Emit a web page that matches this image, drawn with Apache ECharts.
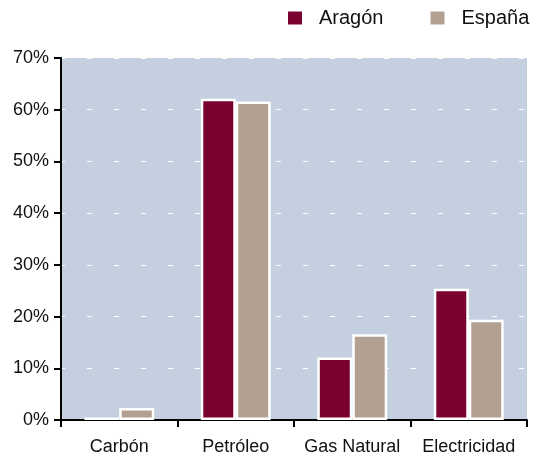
<!DOCTYPE html>
<html>
<head>
<meta charset="utf-8">
<script src="https://cdn.jsdelivr.net/npm/echarts@6/dist/echarts.min.js"></script>
<style>html,body{margin:0;padding:0;background:#fff;}#c{width:544px;height:458px;}</style>
</head>
<body>
<div id="c"></div>
<script>
const categories = ['Carbón', 'Petróleo', 'Gas Natural', 'Electricidad'];
const aragon = [0.5, 62.1, 12.1, 25.4];
const espana = [2.3, 61.6, 16.6, 19.4];
const yTicks = { min: 0, max: 70, interval: 10 };

const chart = echarts.init(document.getElementById('c'), null, { renderer: 'canvas' });
const font = 'Liberation Sans, Arial, sans-serif';
chart.setOption({
  animation: false,
  backgroundColor: '#ffffff',
  textStyle: { fontFamily: font },
  legend: {
    left: 281, top: 3,
    itemWidth: 16, itemHeight: 15, itemGap: 45,
    icon: 'rect',
    textStyle: { fontSize: 20, color: '#111', fontFamily: font, padding: [0, 0, 0, 11] },
    data: ['Aragón', 'España']
  },
  grid: {
    left: 61, right: 17, top: 58, bottom: 38,
    show: true, backgroundColor: '#c4d0e0', borderWidth: 0
  },
  xAxis: {
    type: 'category',
    data: categories,
    axisLine: { lineStyle: { color: '#000', width: 2 } },
    axisTick: { show: true, length: 7, lineStyle: { color: '#000', width: 2 } },
    axisLabel: { fontSize: 18, color: '#111', margin: 18, interval: 0, fontFamily: font },
    splitLine: { show: false }
  },
  yAxis: {
    type: 'value',
    min: yTicks.min, max: yTicks.max, interval: yTicks.interval,
    axisLine: { show: true, lineStyle: { color: '#000', width: 2 } },
    axisTick: { show: true, length: 7, lineStyle: { color: '#000', width: 2 } },
    axisLabel: { fontSize: 18, color: '#111', margin: 12, formatter: '{value}%', fontFamily: font },
    splitLine: { show: true, lineStyle: { color: '#ffffff', width: 1, type: [5, 22], dashOffset: 1 } }
  },
  series: [
    {
      name: 'Aragón', type: 'bar', data: aragon,
      barGap: '0%', barCategoryGap: '40%',
      itemStyle: { color: '#7a0030', borderColor: '#ffffff', borderWidth: 2.5 }
    },
    {
      name: 'España', type: 'bar', data: espana,
      barGap: '0%', barCategoryGap: '40%',
      itemStyle: { color: '#b2a092', borderColor: '#ffffff', borderWidth: 2.5 }
    }
  ]
});
</script>
</body>
</html>
